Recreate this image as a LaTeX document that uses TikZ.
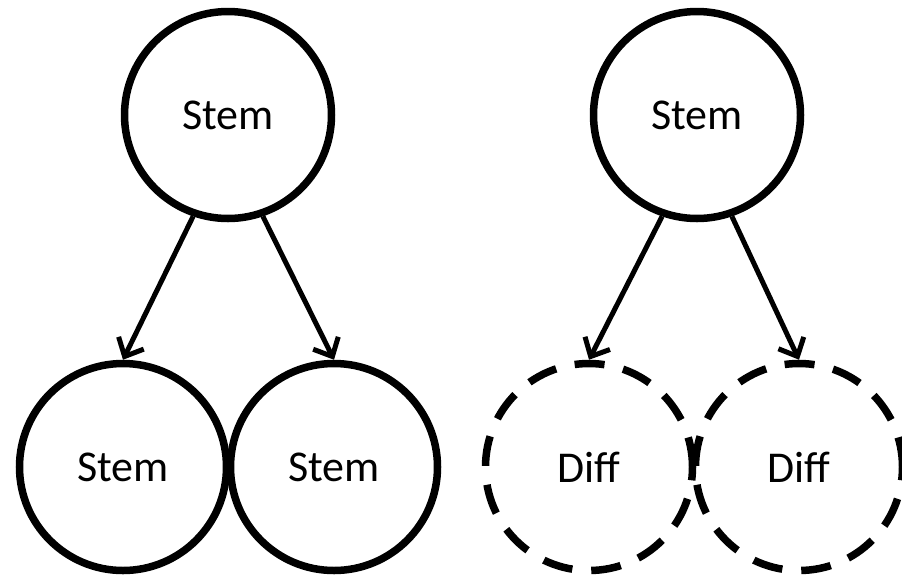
\documentclass[tikz,border=0pt]{standalone}
\usepackage{fontspec}
\setmainfont{Carlito}
\usetikzlibrary{arrows.meta}
\begin{document}
\begin{tikzpicture}[x=1pt,y=-1pt,
  cell/.style={circle,draw=black,line width=7.5pt,minimum size=207pt,inner sep=0pt,
    font=\fontsize{44}{52}\selectfont},
  diffcell/.style={cell,dash pattern=on 30pt off 19pt},
  link/.style={line width=5pt,-{Straight Barb[length=15pt,width=28pt,line width=5pt]}}]
\useasboundingbox (0,0) rectangle (902,582);
\clip (0,0) rectangle (902,582);
\node[cell] (s1) at (228,115) {\raisebox{-5pt}{Stem}};
\node[cell] (s2) at (123,467) {\raisebox{-5pt}{Stem}};
\node[cell] (s3) at (334,467) {\raisebox{-5pt}{Stem}};
\node[cell] (s4) at (697,115) {\raisebox{-5pt}{Stem}};
\node[diffcell] (d1) at (589,467) {\raisebox{-5pt}{Diff}};
\node[diffcell] (d2) at (799,467) {\raisebox{-5pt}{Diff}};
\draw[link] (s1.251) -- (s2.north);
\draw[link] (s1.289) -- (s3.north);
\draw[link] (s4.251) -- (d1.north);
\draw[link] (s4.289) -- (d2.north);
\end{tikzpicture}
\end{document}
